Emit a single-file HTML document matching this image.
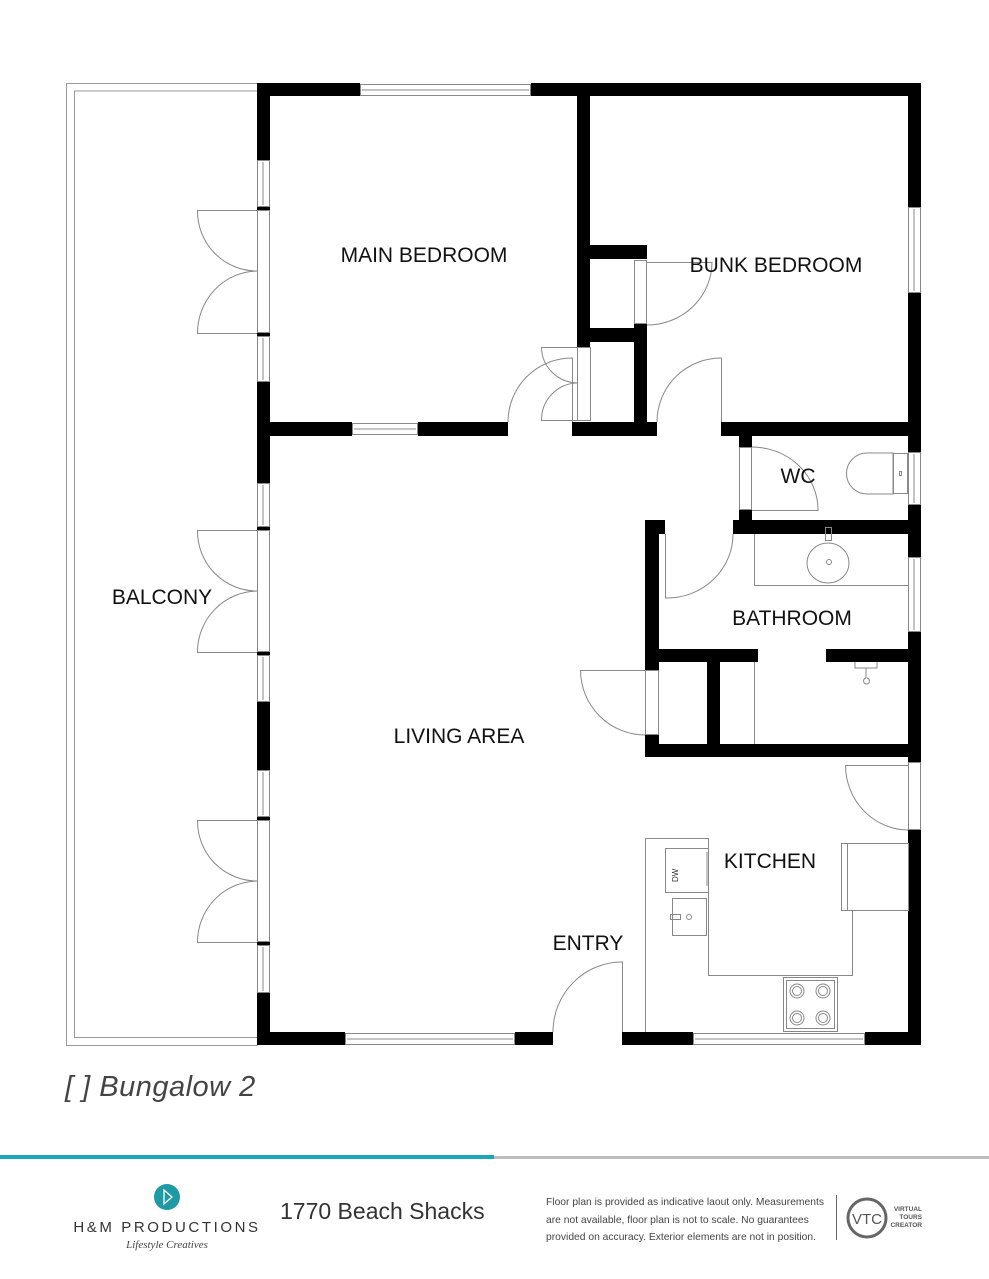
<!DOCTYPE html>
<html><head><meta charset="utf-8"><style>
html,body{margin:0;padding:0;background:#fff;width:989px;height:1279px;overflow:hidden}
svg{display:block}
.l{font-family:"Liberation Sans",sans-serif;font-size:21px;fill:#111}
</style></head><body>
<svg width="989" height="1279" viewBox="0 0 989 1279" xmlns="http://www.w3.org/2000/svg">
<rect x="66.5" y="83.5" width="191" height="962" fill="none" stroke="#999" stroke-width="1"/>
<polyline points="257,91 74.5,91 74.5,1037.5 257,1037.5" fill="none" stroke="#999" stroke-width="1"/>
<g fill="#000">
<rect x="257" y="83" width="103" height="13"/>
<rect x="531" y="83" width="390" height="13"/>
<rect x="908" y="83" width="13" height="124"/>
<rect x="908" y="293" width="13" height="159"/>
<rect x="908" y="505" width="13" height="52"/>
<rect x="908" y="632" width="13" height="130"/>
<rect x="908" y="830" width="13" height="215"/>
<rect x="257" y="1032" width="88" height="13"/>
<rect x="515" y="1032" width="38" height="13"/>
<rect x="622" y="1032" width="71" height="13"/>
<rect x="865" y="1032" width="56" height="13"/>
<rect x="257" y="83" width="13" height="77"/>
<rect x="257" y="382" width="13" height="101"/>
<rect x="257" y="702" width="13" height="68"/>
<rect x="257" y="993" width="13" height="52"/>
<rect x="257" y="207" width="13" height="3"/><rect x="257" y="333" width="13" height="3"/>
<rect x="257" y="527" width="13" height="3"/><rect x="257" y="652" width="13" height="3"/>
<rect x="257" y="817" width="13" height="3"/><rect x="257" y="942" width="13" height="3"/>
<rect x="577" y="83" width="13" height="264"/>
<rect x="590" y="245" width="57" height="14"/>
<rect x="634" y="323" width="13" height="113"/>
<rect x="590" y="328" width="44" height="14"/>
<rect x="257" y="422" width="95" height="14"/>
<rect x="418" y="422" width="90" height="14"/>
<rect x="572" y="422" width="85" height="14"/>
<rect x="721" y="422" width="200" height="14"/>
<rect x="739" y="436" width="13" height="11"/>
<rect x="739" y="510" width="13" height="24"/>
<rect x="645" y="520" width="20" height="14"/>
<rect x="733" y="520" width="188" height="14"/>
<rect x="645" y="520" width="14" height="150"/>
<rect x="645" y="735" width="14" height="22"/>
<rect x="645" y="649" width="113" height="13"/>
<rect x="826" y="649" width="95" height="13"/>
<rect x="707" y="662" width="13" height="85"/>
<rect x="645" y="744" width="276" height="13"/>
</g>
<g fill="none" stroke="#888" stroke-width="1">
<rect x="360.5" y="84.5" width="170" height="11"/><line x1="362" y1="90" x2="529" y2="90"/>
<rect x="352.5" y="423.5" width="65" height="11"/><line x1="354" y1="429" x2="416" y2="429"/>
<rect x="345.5" y="1033.5" width="169" height="11"/><line x1="347" y1="1039" x2="513" y2="1039"/>
<rect x="693.5" y="1033.5" width="171" height="11"/><line x1="695" y1="1039" x2="863" y2="1039"/>
<rect x="908.5" y="207.5" width="12" height="85"/><line x1="914" y1="209" x2="914" y2="291"/>
<rect x="908.5" y="452.5" width="12" height="52"/><line x1="914" y1="454" x2="914" y2="503"/>
<rect x="908.5" y="557.5" width="12" height="74"/><line x1="914" y1="559" x2="914" y2="630"/>
<rect x="257.5" y="160.5" width="12" height="46"/><line x1="263" y1="162" x2="263" y2="205"/>
<rect x="257.5" y="336.5" width="12" height="45"/><line x1="263" y1="338" x2="263" y2="380"/>
<rect x="257.5" y="483.5" width="12" height="43"/><line x1="263" y1="485" x2="263" y2="525"/>
<rect x="257.5" y="655.5" width="12" height="46"/><line x1="263" y1="657" x2="263" y2="700"/>
<rect x="257.5" y="770.5" width="12" height="46"/><line x1="263" y1="772" x2="263" y2="815"/>
<rect x="257.5" y="945.5" width="12" height="47"/><line x1="263" y1="947" x2="263" y2="991"/>
<rect x="257.5" y="210.5" width="12" height="122"/>
<rect x="257.5" y="530.5" width="12" height="121"/>
<rect x="257.5" y="820.5" width="12" height="121"/>
<rect x="577.5" y="347.5" width="13" height="73"/>
<rect x="634.5" y="260.5" width="12" height="63"/>
<rect x="739.5" y="447.5" width="12" height="62"/>
<rect x="645.5" y="670.5" width="13" height="64"/>
<rect x="908.5" y="762.5" width="12" height="67"/>
<path d="M257 210.5H197.5V210.5A60 60 0 0 0 257 271"/>
<path d="M257 333.5H197.5A60 62 0 0 1 257 271"/>
<path d="M257 530.5H197.5A60 60 0 0 0 257 591"/>
<path d="M257 652.5H197.5A60 61 0 0 1 257 591"/>
<path d="M257 820.5H197.5A60 60 0 0 0 257 881"/>
<path d="M257 942.5H197.5A60 61 0 0 1 257 881"/>
<path d="M572.5 422V358A64 64 0 0 0 508 422"/>
<path d="M578 347.5H541.5A37 36 0 0 0 578 383"/>
<path d="M578 420.5H541.5A37 37 0 0 1 578 383"/>
<path d="M647 262.5H712A65 63 0 0 1 647 325"/>
<path d="M721.5 422V358A64 64 0 0 0 657 422"/>
<path d="M752 510.5H818A66 63 0 0 0 752 447"/>
<path d="M665.5 534V598A66 64 0 0 0 733 534"/>
<path d="M645 670.5H580.5A65 65 0 0 0 645 735"/>
<path d="M908 765.5H845.5A63 65 0 0 0 908 830"/>
<path d="M622.5 1032V962A69 70 0 0 0 553 1032"/>
<path d="M893 453H867A20.5 20.5 0 0 0 867 494H893Z"/><rect x="893.5" y="453.5" width="14" height="40"/>
<rect x="899.5" y="471.5" width="2" height="4"/>
<polyline points="754.5,534 754.5,585.5 908,585.5"/>
<ellipse cx="828" cy="563" rx="21" ry="20"/><rect x="825.5" y="527.5" width="6" height="13"/>
<circle cx="829" cy="562" r="2.5"/>
<line x1="754.5" y1="662" x2="754.5" y2="744"/>
<path d="M855 662v6h22v-6M866 668v10M866 678a3 3 0 1 0 1 0"/>
<polyline points="645.5,1032 645.5,838.5 708.5,838.5 708.5,975.5 852.5,975.5 852.5,910"/>
<rect x="665.5" y="848.5" width="43" height="44"/><line x1="707" y1="852" x2="707" y2="886"/>
<rect x="672.5" y="898.5" width="34" height="37"/><rect x="670.5" y="914.5" width="10" height="5"/><circle cx="689" cy="917" r="2.5"/>
<rect x="841.5" y="843.5" width="67" height="67"/><line x1="847.5" y1="844" x2="847.5" y2="910"/>
<rect x="783.5" y="977.5" width="54" height="54"/><rect x="786.5" y="980.5" width="48" height="48"/>
<circle cx="797" cy="991" r="7"/><circle cx="797" cy="991" r="4.5"/>
<circle cx="823" cy="991" r="7"/><circle cx="823" cy="991" r="4.5"/>
<circle cx="797" cy="1018" r="7"/><circle cx="797" cy="1018" r="4.5"/>
<circle cx="823" cy="1018" r="7"/><circle cx="823" cy="1018" r="4.5"/>
</g>
<text x="672" y="888" transform="rotate(-90 672 882)" font-family="Liberation Sans,sans-serif" font-size="8" fill="#333">DW</text>
<text class="l" x="424" y="262" text-anchor="middle">MAIN BEDROOM</text>
<text class="l" x="776" y="272" text-anchor="middle">BUNK BEDROOM</text>
<text class="l" x="798" y="483" text-anchor="middle">WC</text>
<text class="l" x="792" y="625" text-anchor="middle">BATHROOM</text>
<text class="l" x="459" y="743" text-anchor="middle">LIVING AREA</text>
<text class="l" x="770" y="868" text-anchor="middle">KITCHEN</text>
<text class="l" x="588" y="950" text-anchor="middle">ENTRY</text>
<text class="l" x="162" y="604" text-anchor="middle">BALCONY</text>
<text x="65" y="1096" font-family="Liberation Sans,sans-serif" font-style="italic" font-size="29" letter-spacing="0.5" fill="#444">[ ] Bungalow 2</text>
<rect x="0" y="1155" width="494" height="4" fill="#1aa7b9"/>
<rect x="494" y="1156" width="495" height="3" fill="#bdbdbd"/>
<circle cx="167" cy="1197" r="13" fill="#1e9aa5"/>
<path d="M164 1190v14l8-7z" fill="none" stroke="#fff" stroke-width="1.3"/>
<text x="167" y="1232" text-anchor="middle" font-family="Liberation Sans,sans-serif" font-size="15" letter-spacing="2.6" fill="#333">H&amp;M PRODUCTIONS</text>
<text x="167" y="1248" text-anchor="middle" font-family="Liberation Serif,serif" font-style="italic" font-size="11" fill="#444">Lifestyle Creatives</text>
<text x="280" y="1219" font-family="Liberation Sans,sans-serif" font-size="23" fill="#333">1770 Beach Shacks</text>
<g font-family="Liberation Sans,sans-serif" font-size="10.3" fill="#444">
<text x="546" y="1205">Floor plan is provided as indicative laout only. Measurements</text>
<text x="546" y="1223">are not available, floor plan is not to scale. No guarantees</text>
<text x="546" y="1240">provided on accuracy. Exterior elements are not in position.</text>
</g>
<line x1="836.5" y1="1195" x2="836.5" y2="1240" stroke="#666" stroke-width="1"/>
<circle cx="867" cy="1218" r="19" fill="none" stroke="#666" stroke-width="3"/>
<text x="867" y="1224" text-anchor="middle" font-family="Liberation Sans,sans-serif" font-size="15" fill="#555">VTC</text>
<g font-family="Liberation Sans,sans-serif" font-size="6.5" font-weight="bold" fill="#555" text-anchor="end">
<text x="922" y="1211">VIRTUAL</text><text x="922" y="1219">TOURS</text><text x="922" y="1227">CREATOR</text>
</g>
</svg>
</body></html>
